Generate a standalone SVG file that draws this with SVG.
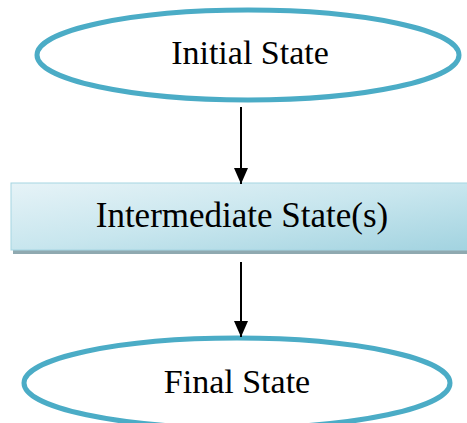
<svg xmlns="http://www.w3.org/2000/svg" width="467" height="423" viewBox="0 0 467 423">
<defs>
<linearGradient id="g" x1="0" y1="0" x2="1" y2="1">
<stop offset="0" stop-color="#e6f3f7"/>
<stop offset="0.5" stop-color="#c8e6ee"/>
<stop offset="1" stop-color="#a2d3e0"/>
</linearGradient>
<marker id="ah" markerWidth="16" markerHeight="14" refX="16" refY="7" orient="auto" markerUnits="userSpaceOnUse">
<path d="M0,0 L16,7 L0,14 z" fill="#000"/>
</marker>
</defs>
<style>
.ell{fill:#fff;stroke:#4bacc6;stroke-width:5}
.lbl{font-family:"Liberation Serif",serif;font-size:34px;fill:#000;text-anchor:middle}
.con{stroke:#000;stroke-width:2;fill:none;marker-end:url(#ah)}
</style>
<rect width="467" height="423" fill="#fff"/>
<g id="initial">
<ellipse class="ell" cx="248" cy="55" rx="211" ry="45"/>
<text class="lbl" x="250" y="64">Initial State</text>
</g>
<g id="intermediate">
<rect x="13" y="186" width="460" height="68" fill="#8fa9b0"/>
<rect x="11" y="183" width="460" height="67" fill="url(#g)" stroke="#a5d5e2" stroke-width="1"/>
<text class="lbl" x="242" y="227" style="font-size:35px">Intermediate State(s)</text>
</g>
<g id="final">
<ellipse class="ell" cx="237" cy="383" rx="213" ry="45"/>
<text class="lbl" x="237" y="393">Final State</text>
</g>
<g id="connectors">
<line class="con" x1="241" y1="107" x2="241" y2="184"/>
<line class="con" x1="241" y1="262" x2="241" y2="337"/>
</g>
</svg>
